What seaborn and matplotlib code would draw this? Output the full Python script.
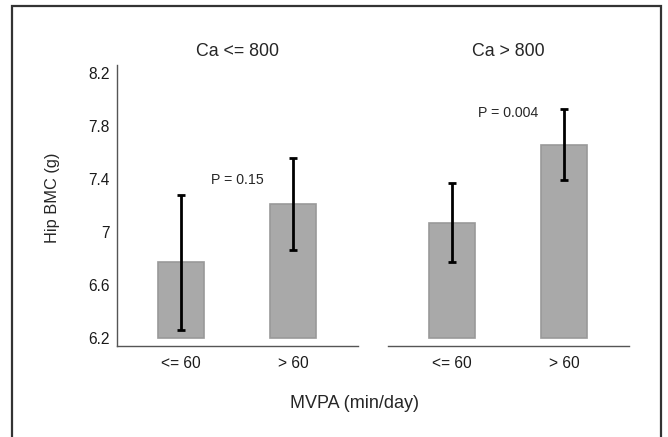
import numpy as np
import pandas as pd
import matplotlib
matplotlib.use('Agg')
import matplotlib.pyplot as plt
import seaborn as sns
from matplotlib.patches import Rectangle

# data
ca_groups = ['Ca <= 800', 'Ca > 800']
mvpa_levels = ['<= 60', '> 60']
bmc_low_ca = [6.77, 7.21]
bmc_high_ca = [7.07, 7.66]
err_low_ca = [0.51, 0.345]
err_high_ca = [0.30, 0.27]
p_values = ['P = 0.15', 'P = 0.004']
p_heights = [7.39, 7.90]
y_ticks = [6.2, 6.6, 7.0, 7.4, 7.8, 8.2]
y_ticklabels = ['6.2', '6.6', '7', '7.4', '7.8', '8.2']

base = 6.2

df = pd.DataFrame({
    'ca': np.repeat(ca_groups, 2),
    'mvpa': mvpa_levels * 2,
    'bmc': bmc_low_ca + bmc_high_ca,
    'err': err_low_ca + err_high_ca,
})

sns.set_style('white')
plt.rcParams['font.family'] = ['Liberation Sans', 'DejaVu Sans']

fig = plt.figure(figsize=(6.68, 4.37), dpi=100)

W, H = 668., 437.
ax_bottom = (H - 346) / H
ax_height = (346 - 65) / H
ax_width = 241 / W
lefts = [117 / W, 388 / W]

for i, grp in enumerate(ca_groups):
    ax = fig.add_axes([lefts[i], ax_bottom, ax_width, ax_height])
    sub = df[df['ca'] == grp]
    sns.barplot(data=sub, x='mvpa', y='bmc', order=mvpa_levels, color='#a9a9a9',
                saturation=1, width=0.41, edgecolor='#999999', linewidth=1.2,
                errorbar=None, ax=ax)
    # bars start at 6.2, not at zero
    for p in ax.patches:
        h = p.get_height()
        p.set_y(base)
        p.set_height(h - base)
    ax.errorbar(np.arange(len(mvpa_levels)), sub['bmc'].values, yerr=sub['err'].values,
                fmt='none', ecolor='black', elinewidth=2, capsize=2.6, capthick=2, zorder=5)
    ax.text(0.5, p_heights[i], p_values[i], ha='center', va='center', fontsize=10.2)
    ax.set_title(grp, fontsize=12.8, pad=6.5)
    ax.set_xlim(-0.57, 1.58)
    ax.set_ylim(6.14, 8.26)
    ax.set_xlabel('')
    ax.set_ylabel('')
    ax.set_yticks(y_ticks)
    ax.set_yticklabels(y_ticklabels)
    ax.tick_params(axis='both', direction='out', length=3, width=0.8,
                   color='#555555', labelsize=11.2, labelcolor='#1a1a1a', pad=2)
    ax.tick_params(axis='x', pad=4)
    for s in ['top', 'right']:
        ax.spines[s].set_visible(False)
    ax.spines['bottom'].set_color('#555555')
    ax.spines['bottom'].set_linewidth(1)
    ax.spines['left'].set_color('#555555')
    ax.spines['left'].set_linewidth(1)
    if i == 1:
        ax.spines['left'].set_visible(False)
        ax.set_yticks([])
    ax.set_facecolor('white')

fig.text(52 / W, 1 - 198 / H, 'Hip BMC (g)', ha='center', va='center',
         rotation=90, fontsize=11.8)
fig.text(355 / W, 1 - 403 / H, 'MVPA (min/day)', ha='center', va='center', fontsize=13)

# outer frame
fig.patches.append(Rectangle((12 / W, -0.1), (661 - 12) / W, 1.1 - 6 / H,
                             transform=fig.transFigure, fill=False,
                             edgecolor='#333333', linewidth=1.6))

fig.savefig('out.png', dpi=100)
plt.close(fig)
